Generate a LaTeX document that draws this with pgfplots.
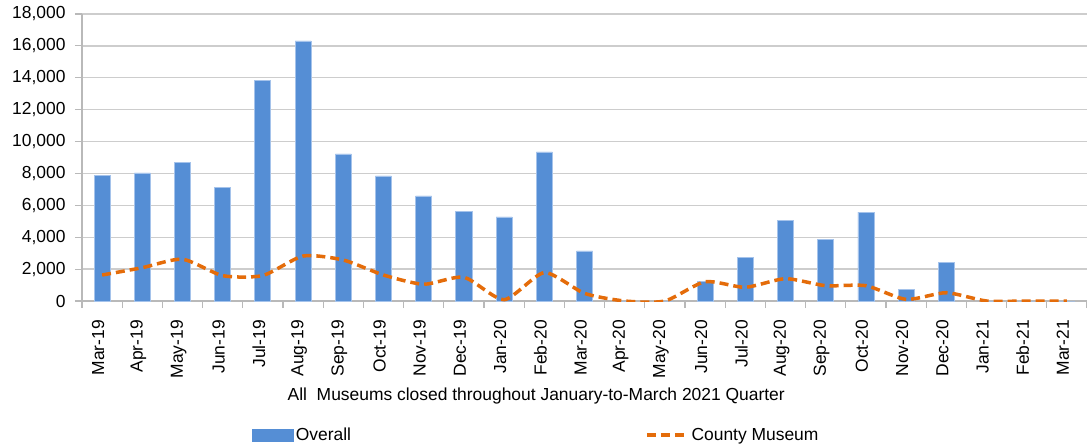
\documentclass[border=0pt]{standalone}
\usepackage{fontspec}
\setmainfont{Liberation Sans}
\usepackage{pgfplots}
\pgfplotsset{compat=1.18}
\definecolor{barblue}{RGB}{85,142,213}
\definecolor{baredge}{RGB}{165,195,235}
\definecolor{lineorange}{RGB}{228,108,10}
\definecolor{gridgray}{RGB}{205,205,205}
\definecolor{axisgray}{RGB}{185,185,185}
\begin{document}
\begin{tikzpicture}
\begin{axis}[
  name=ax,
  width=1005bp, height=287bp, scale only axis,
  xmin=-0.5, xmax=24.5, ymin=0, ymax=18000,
  axis x line*=bottom, axis y line*=left,
  axis line style={axisgray, line width=1.2bp},
  font=\fontsize{17.5}{20}\selectfont,
  ytick={0,2000,...,18000},
  scaled y ticks=false,
  /pgf/number format/1000 sep={,},
  /pgf/number format/assume math mode=true,
  yticklabel style={xshift=-6bp},
  ymajorgrids, grid style={gridgray, line width=1.3bp},
  tick align=outside, major tick length=7bp,
  tick style={axisgray, line width=1.2bp},
  xtick={-0.5,0.5,1.5,...,24.5},
  xticklabels={},
  extra x ticks={0,1,...,24},
  extra x tick labels={Mar-19,Apr-19,May-19,Jun-19,Jul-19,Aug-19,Sep-19,Oct-19,Nov-19,Dec-19,Jan-20,Feb-20,Mar-20,Apr-20,May-20,Jun-20,Jul-20,Aug-20,Sep-20,Oct-20,Nov-20,Dec-20,Jan-21,Feb-21,Mar-21},
  extra x tick style={major tick length=0pt, grid=none},
  xticklabel style={xshift=-4bp, yshift=-19bp, rotate=90, anchor=east, inner ysep=0pt, inner xsep=0pt},
  xlabel={All\ \ Museums closed throughout January-to-March 2021 Quarter},
  xlabel style={at={(axis description cs:0.452,-0.33)}, anchor=center},
  legend columns=2,
  legend style={at={(axis description cs:0.452,-0.467)}, anchor=center, draw=none, fill=none,
    font=\fontsize{17.5}{20}\selectfont,
    /tikz/every even column/.append style={column sep=292bp}},
]
\addplot[ybar, bar width=16bp, fill=barblue, draw=baredge, line width=0.8bp,
  legend image code/.code={\fill[barblue] (0bp,-6bp) rectangle (41bp,6bp);}]
  coordinates {
  (0,7860) (1,8030) (2,8700) (3,7110) (4,13860) (5,16310) (6,9220) (7,7840)
  (8,6590) (9,5600) (10,5270) (11,9350) (12,3140) (13,0) (14,0) (15,1250)
  (16,2740) (17,5040) (18,3850) (19,5580) (20,730) (21,2430) (22,0) (23,0) (24,0)
  };
\addlegendentry{Overall}
\addplot[lineorange, line width=3.5bp, dash pattern=on 9bp off 5bp, smooth, tension=0.4, no markers,
  legend image code/.code={\draw[lineorange, line width=3.5bp, dash pattern=on 9bp off 5bp] (0bp,0bp) -- (41bp,0bp);}]
  coordinates {
  (0,1630) (1,2090) (2,2620) (3,1590) (4,1600) (5,2820) (6,2570) (7,1630)
  (8,1050) (9,1490) (10,80) (11,1780) (12,480) (13,0) (14,0) (15,1210)
  (16,860) (17,1400) (18,960) (19,960) (20,100) (21,520) (22,0) (23,0) (24,0)
  };
\addlegendentry{County Museum}
\end{axis}
\pgfresetboundingbox
\path (ax.south west) ++(-82bp,-147bp) rectangle ++(1087bp,448bp);
\end{tikzpicture}
\end{document}
